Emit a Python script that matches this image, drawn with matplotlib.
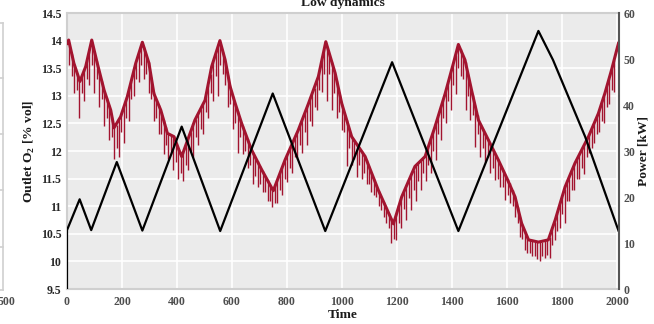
import numpy as np
import matplotlib
matplotlib.use("Agg")
import matplotlib.pyplot as plt
from matplotlib.lines import Line2D

plt.rcParams['font.family'] = ['Liberation Serif', 'DejaVu Serif']
plt.rcParams['mathtext.fontset'] = 'custom'
plt.rcParams['mathtext.rm'] = 'Liberation Serif:bold'
plt.rcParams['mathtext.bf'] = 'Liberation Serif:bold'

# power set-point (right axis, kW)
pw_t = [0, 0, 46, 88, 181, 274, 417, 557, 748, 939, 1182, 1423, 1714, 1767, 1884, 2005]
pw_kw = [0, 12.8, 19.5, 12.8, 27.6, 12.7, 35.3, 12.6, 42.5, 12.6, 49.3, 12.6, 56.1, 49.8, 33.1, 12.7]

# outlet O2 band (left axis, % vol)
o2_t = [0, 6, 25, 47, 68, 90, 110, 135, 159, 171, 195, 219, 250, 274, 298, 316, 341, 365,
        389, 407, 417, 465, 502, 526, 556, 575, 593, 611, 635, 671, 708, 750, 793, 841,
        878, 914, 941, 975, 999, 1035, 1084, 1132, 1187, 1217, 1265, 1302, 1338, 1375,
        1405, 1423, 1447, 1471, 1496, 1532, 1568, 1600, 1629, 1653, 1678, 1714, 1750,
        1775, 1811, 1847, 1896, 1932, 1956, 1980, 2005]
o2_val = [13.95, 14.01, 13.59, 13.26, 13.53, 14.01, 13.59, 13.10, 12.74, 12.42, 12.62,
          12.98, 13.59, 13.97, 13.59, 13.04, 12.74, 12.32, 12.26, 12.02, 11.90, 12.56,
          12.92, 13.53, 14.00, 13.65, 13.17, 12.87, 12.50, 12.02, 11.66, 11.28, 11.84,
          12.38, 12.86, 13.35, 13.98, 13.41, 12.86, 12.26, 11.90, 11.29, 10.68, 11.17,
          11.72, 11.90, 12.44, 13.04, 13.59, 13.93, 13.65, 13.10, 12.56, 12.20, 11.84,
          11.50, 11.17, 10.69, 10.39, 10.35, 10.39, 10.75, 11.35, 11.78, 12.26, 12.68,
          13.05, 13.47, 13.95]

# deep downward O2 spikes: time, top, bottom
spike_t = [9, 27, 45, 63, 81, 99, 117, 135, 153, 171, 189, 207, 225, 243, 261, 279, 297,
           315, 333, 351, 369, 387, 405, 423, 441, 459, 477, 495, 513, 531, 549, 567, 585,
           603, 621, 639, 657, 675, 693, 711, 729, 747, 765, 783, 801, 819, 837, 855, 873,
           891, 909, 927, 945, 963, 981, 999, 1017, 1035, 1053, 1071, 1089, 1107, 1125,
           1143, 1161, 1179, 1197, 1215, 1233, 1251, 1269, 1287, 1305, 1323, 1341, 1359,
           1377, 1395, 1413, 1431, 1449, 1467, 1485, 1503, 1521, 1539, 1557, 1575, 1593,
           1611, 1629, 1647, 1665, 1683, 1701, 1719, 1737, 1755, 1773, 1791, 1809, 1827,
           1845, 1863, 1881, 1899, 1917, 1935, 1953, 1971, 1989]
spike_top = [13.94, 13.57, 13.28, 13.47, 13.82, 13.82, 13.45, 13.10, 12.83, 12.42, 12.57,
             12.80, 13.10, 13.45, 13.76, 13.89, 13.61, 13.07, 12.84, 12.57, 12.31, 12.27,
             12.05, 11.98, 12.23, 12.48, 12.68, 12.85, 13.20, 13.61, 13.89, 13.80, 13.38,
             13.00, 12.72, 12.45, 12.21, 11.98, 11.81, 11.63, 11.47, 11.31, 11.48, 11.71,
             11.93, 12.14, 12.34, 12.56, 12.80, 13.04, 13.27, 13.65, 13.91, 13.61, 13.27,
             12.86, 12.56, 12.26, 12.13, 12.00, 11.84, 11.62, 11.38, 11.17, 10.97, 10.78,
             10.85, 11.14, 11.35, 11.56, 11.74, 11.83, 11.94, 12.22, 12.49, 12.78, 13.08,
             13.41, 13.74, 13.84, 13.61, 13.19, 12.83, 12.49, 12.31, 12.13, 11.95, 11.75,
             11.57, 11.42, 11.17, 10.81, 10.55, 10.38, 10.36, 10.35, 10.37, 10.45, 10.72,
             11.02, 11.32, 11.54, 11.76, 11.94, 12.12, 12.30, 12.49, 12.73, 13.00, 13.32,
             13.65]
spike_low = [13.55, 13.05, 12.60, 12.90, 13.20, 13.05, 12.80, 12.45, 12.20, 11.85, 11.90,
             12.15, 12.55, 13.00, 13.25, 13.30, 13.05, 12.55, 12.30, 11.95, 11.85, 11.65,
             11.50, 11.45, 11.65, 11.90, 12.10, 12.30, 12.60, 12.90, 13.00, 13.40, 12.80,
             12.40, 11.96, 11.95, 11.70, 11.41, 11.35, 11.26, 11.10, 10.99, 11.05, 11.20,
             11.44, 11.60, 11.85, 11.96, 12.10, 12.45, 12.74, 13.07, 12.90, 12.74, 12.60,
             12.38, 11.72, 11.75, 11.53, 11.50, 11.41, 11.25, 11.17, 10.93, 10.70, 10.33,
             10.39, 10.60, 10.75, 10.93, 11.10, 11.30, 11.45, 11.60, 11.84, 12.20, 12.50,
             12.74, 13.04, 13.35, 12.74, 12.56, 12.08, 11.90, 11.80, 11.60, 11.47, 11.35,
             11.11, 11.05, 10.81, 10.45, 10.20, 10.15, 10.09, 10.00, 10.07, 10.06, 10.39,
             10.60, 10.69, 11.10, 11.29, 11.50, 11.59, 11.96, 12.14, 12.35, 12.50, 12.86,
             13.07]

# shallower spikes in between
spike2_t = [18, 36, 54, 72, 90, 108, 126, 144, 162, 180,
            198, 216, 234, 252, 270, 288, 306, 324, 342, 360,
            378, 396, 414, 432, 450, 468, 486, 504, 522, 540,
            558, 576, 594, 612, 630, 648, 666, 684, 702, 720,
            738, 756, 774, 792, 810, 828, 846, 864, 882, 900,
            918, 936, 954, 972, 990, 1008, 1026, 1044, 1062, 1080,
            1098, 1116, 1134, 1152, 1170, 1188, 1206, 1224, 1242, 1260,
            1278, 1296, 1314, 1332, 1350, 1368, 1386, 1404, 1422, 1440,
            1458, 1476, 1494, 1512, 1530, 1548, 1566, 1584, 1602, 1620,
            1638, 1656, 1674, 1692, 1710, 1728, 1746, 1764, 1782, 1800,
            1818, 1836, 1854, 1872, 1890, 1908, 1926, 1944, 1962, 1980]
spike2_top = [13.75, 13.42, 13.37, 13.64, 13.98, 13.63, 13.27, 12.96, 12.62, 12.48,
              12.68, 12.95, 13.27, 13.60, 13.90, 13.75, 13.34, 12.95, 12.70, 12.44,
              12.29, 12.16, 11.95, 12.10, 12.35, 12.58, 12.76, 13.00, 13.40, 13.75,
              13.98, 13.60, 13.19, 12.86, 12.58, 12.33, 12.10, 11.90, 11.72, 11.55,
              11.39, 11.38, 11.60, 11.82, 12.03, 12.24, 12.45, 12.68, 12.92, 13.15,
              13.46, 13.85, 13.76, 13.44, 13.06, 12.71, 12.41, 12.20, 12.07, 11.92,
              11.73, 11.50, 11.28, 11.07, 10.88, 10.72, 11.00, 11.25, 11.46, 11.65,
              11.78, 11.89, 12.08, 12.36, 12.64, 12.93, 13.25, 13.58, 13.92, 13.72,
              13.40, 13.01, 12.66, 12.40, 12.22, 12.04, 11.85, 11.66, 11.50, 11.30,
              10.99, 10.68, 10.46, 10.37, 10.35, 10.36, 10.41, 10.58, 10.87, 11.17,
              11.43, 11.65, 11.85, 12.03, 12.21, 12.40, 12.61, 12.87, 13.16, 13.48]
spike2_low = [13.35, 13.10, 13.05, 13.30, 13.55, 13.30, 12.95, 12.60, 12.25, 12.05,
              12.35, 12.60, 12.95, 13.30, 13.55, 13.40, 12.95, 12.60, 12.30, 12.10,
              11.95, 11.80, 11.60, 11.75, 12.00, 12.25, 12.40, 12.70, 13.05, 13.35,
              13.55, 13.20, 12.85, 12.50, 12.25, 12.00, 11.75, 11.55, 11.40, 11.25,
              11.10, 11.05, 11.30, 11.50, 11.70, 11.90, 12.10, 12.35, 12.55, 12.80,
              13.10, 13.40, 13.40, 13.05, 12.70, 12.35, 12.05, 11.85, 11.75, 11.60,
              11.40, 11.20, 11.00, 10.80, 10.60, 10.40, 10.70, 10.95, 11.15, 11.30,
              11.45, 11.60, 11.75, 12.00, 12.30, 12.60, 12.90, 13.20, 13.50, 13.30,
              13.00, 12.65, 12.30, 12.05, 11.90, 11.70, 11.50, 11.35, 11.20, 11.00,
              10.70, 10.40, 10.15, 10.10, 10.05, 10.10, 10.12, 10.30, 10.55, 10.85,
              11.10, 11.30, 11.50, 11.70, 11.90, 12.05, 12.30, 12.55, 12.80, 13.10]

x_ticks = [0, 200, 400, 600, 800, 1000, 1200, 1400, 1600, 1800, 2000]
o2_ticks = [9.5, 10, 10.5, 11, 11.5, 12, 12.5, 13, 13.5, 14, 14.5]
o2_ticklabels = ['9.5', '10', '10.5', '11', '11.5', '12', '12.5', '13', '13.5', '14', '14.5']
pw_ticks = [0, 10, 20, 30, 40, 50, 60]

RED = '#A2142F'
TICK_FS = 8.5
LABEL_FS = 9.7

fig = plt.figure(figsize=(6.54, 3.24), dpi=100)
ax = fig.add_axes([67 / 654, 35 / 324, 552 / 654, 276 / 324])
ax.set_facecolor('#EBEBEB')
ax.grid(True, color='white', linewidth=1.2)
ax.set_axisbelow(True)

ax.vlines(spike_t, spike_low, spike_top, color=RED, linewidth=1.0, zorder=2)
ax.vlines(spike2_t, spike2_low, spike2_top, color=RED, linewidth=1.0, zorder=2)
ax.plot(o2_t, o2_val, color=RED, linewidth=2.2, zorder=3)

ax.set_xlim(0, 2007)
ax.set_ylim(9.5, 14.5)
ax.set_xticks(x_ticks)
ax.set_yticks(o2_ticks)
ax.set_yticklabels(o2_ticklabels)
ax.tick_params(axis='both', length=0, labelsize=TICK_FS)
ax.tick_params(axis='y', pad=4, labelcolor='#262626')
ax.tick_params(axis='x', pad=5, labelcolor='#4D4D4D')
for lbl in ax.get_xticklabels() + ax.get_yticklabels():
    lbl.set_fontweight('bold')
for s in ['top', 'bottom', 'left']:
    ax.spines[s].set_color('#CFCFCF')
    ax.spines[s].set_linewidth(1.5)
ax.spines['right'].set_visible(False)

ax.set_xlabel('Time', fontsize=LABEL_FS, fontweight='bold', labelpad=1, color='#1A1A1A')
ax.set_ylabel(r'Outlet O$_{\mathbf{2}}$ [% vol]', fontsize=LABEL_FS, fontweight='bold',
              labelpad=3, color='#1A1A1A')
ax.set_title('Low dynamics', fontsize=LABEL_FS, fontweight='bold', pad=5, color='#1A1A1A')

ax2 = ax.twinx()
ax2.plot(pw_t, pw_kw, color='black', linewidth=1.6)
ax2.set_ylim(0, 60)
ax2.set_yticks(pw_ticks)
ax2.tick_params(axis='y', length=0, pad=3, labelsize=TICK_FS, labelcolor='#4D4D4D')
for lbl in ax2.get_yticklabels():
    lbl.set_fontweight('bold')
for s in ['top', 'bottom', 'left']:
    ax2.spines[s].set_visible(False)
ax2.spines['right'].set_color('#555555')
ax2.spines['right'].set_linewidth(1.5)
ax2.set_ylabel('Power [kW]', fontsize=LABEL_FS, fontweight='bold', rotation=90,
               labelpad=2, color='#1A1A1A')

# edge of the neighbouring panel, cut off at the left border
W, H = 654.0, 324.0
fig.add_artist(Line2D([3 / W, 3 / W], [1 - 23 / H, 1 - 290 / H], color='#D0D0D0', linewidth=1.2))
for yy in [23, 78, 134, 190, 247, 290]:
    fig.add_artist(Line2D([0, 3 / W], [1 - yy / H, 1 - yy / H], color='#D0D0D0', linewidth=1.2))
fig.text(6 / W, 1 - 302 / H, '500', ha='center', va='center', fontsize=TICK_FS,
         fontweight='bold', color='#4D4D4D')

fig.savefig('out.png', dpi=100)
